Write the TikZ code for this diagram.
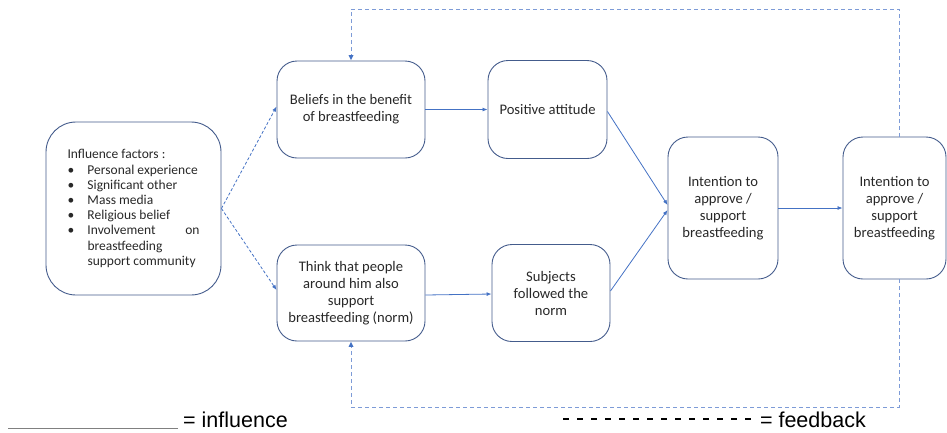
\documentclass[tikz,border=0pt]{standalone}
\usepackage{fontspec}
\setmainfont{Carlito}
\newfontfamily\legendfont{Liberation Sans}
\usetikzlibrary{arrows.meta}

\definecolor{boxline}{RGB}{68,92,140}
\definecolor{arrowblue}{RGB}{68,114,196}
\definecolor{feedblue}{RGB}{125,155,215}
\definecolor{boxtext}{RGB}{40,40,40}

\begin{document}
\begin{tikzpicture}[x=1pt, y=-1pt, node distance=196.5pt,
                    main node/.style={rectangle,rounded corners=20pt,draw=boxline,line width=0.9pt,
                      align=center,text=boxtext,font=\fontsize{14.6}{17}\selectfont},
                    factor node/.style={main node,rounded corners=30pt,align=left,
                      font=\fontsize{13.5}{15.2}\selectfont},
                    influence/.style={draw=arrowblue,line width=0.8pt,-{Latex[length=5pt,width=4pt]}},
                    guess/.style={influence,dash pattern=on 3pt off 2pt},
                    feedback/.style={draw=feedblue,line width=0.8pt,dash pattern=on 4pt off 3pt},
                    legend text/.style={font=\legendfont\fontsize{21.5}{24}\selectfont,inner sep=0pt}]

  \useasboundingbox (0,0) rectangle (947,432);

  \node[factor node,minimum width=175pt,minimum height=173pt] (factors) at (133.5,208.5)
    {Influence factors :\\
     \makebox[20pt][l]{\textbullet}Personal experience\\
     \makebox[20pt][l]{\textbullet}Significant other\\
     \makebox[20pt][l]{\textbullet}Mass media\\
     \makebox[20pt][l]{\textbullet}Religious belief\\
     \makebox[20pt][l]{\textbullet}\makebox[112pt][l]{Involvement\hfill on}\\
     \hspace*{20pt}breastfeeding\\
     \hspace*{20pt}support community};

  \node[main node,minimum width=148pt,minimum height=97pt] (beliefs) at (351,109.5)
    {Beliefs in the benefit\\of breastfeeding};
  \node[main node,minimum width=119pt,minimum height=98pt] (attitude) [right of=beliefs] {Positive attitude};

  \node[main node,minimum width=148pt,minimum height=96pt] (norm) at (351,293)
    {Think that people\\around him also\\support\\breastfeeding (norm)};
  \node[main node,minimum width=118pt,minimum height=97pt] (subjects) [right of=norm, node distance=200pt]
    {Subjects\\followed the\\norm};

  \node[main node,minimum width=110pt,minimum height=142pt] (intention) at (723,208)
    {Intention to\\approve /\\support\\breastfeeding};
  \node[main node,minimum width=103pt,minimum height=142pt] (approve) [right of=intention, node distance=171.5pt]
    {Intention to\\approve /\\support\\breastfeeding};

  % influence
  \draw[guess] (factors.east) -- ([yshift=3pt]beliefs.west);
  \draw[guess] (factors.east) -- ([yshift=3pt]norm.west);
  \draw[influence] (beliefs.east) -- (attitude.west);
  \draw[influence] ([yshift=-2pt]norm.east) -- ([yshift=-1pt]subjects.west);
  \draw[influence] ([yshift=-2pt]attitude.east) -- ([yshift=3pt]intention.west);
  \draw[influence] ([yshift=2pt]subjects.east) -- ([yshift=-2pt]intention.west);
  \draw[influence] (intention) -- (approve);

  % feedback
  \coordinate (fb top) at (899,9);
  \coordinate (fb bottom) at (899,407);
  \draw[feedback] (approve.north -| fb top) -- (fb top) -| (beliefs.north);
  \draw[feedback] (approve.south -| fb bottom) -- (fb bottom) -| (norm.south);
  \fill[arrowblue] (beliefs.north) ++(0,-0.5) -- ++(-2.5,-5) -- ++(5,0) -- cycle;
  \fill[arrowblue] (norm.south) ++(0,0.5) -- ++(-2.5,5) -- ++(5,0) -- cycle;

  % legend
  \node[legend text,anchor=west] (influence key) at (183,420) {= influence};
  \node[legend text,anchor=east] (feedback key) at (866,420) {= feedback};
  \draw[gray,line width=1pt] ([xshift=-5pt,yshift=-8pt]influence key.west) -- ++(-170,0);
  \draw[black,line width=1.4pt,dash pattern=on 6pt off 8pt] ([xshift=-9pt,yshift=1pt]feedback key.west) -- ++(-194,0);

\end{tikzpicture}
\end{document}
